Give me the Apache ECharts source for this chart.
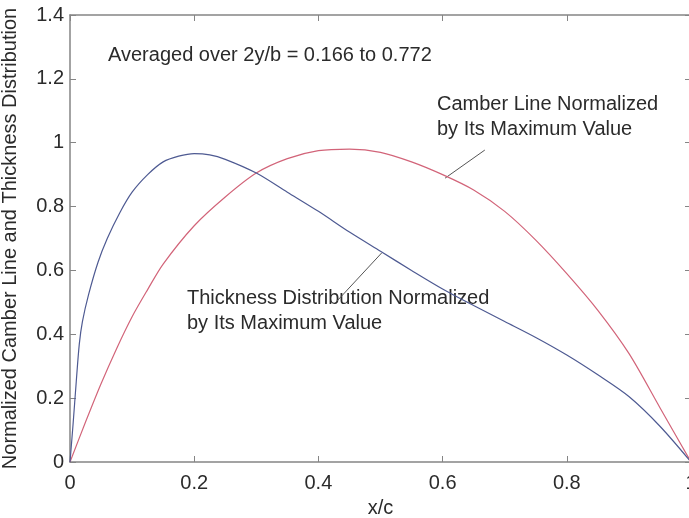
<!DOCTYPE html>
<html><head><meta charset="utf-8">
<script src="https://cdn.jsdelivr.net/npm/echarts@6/dist/echarts.min.js"></script>
<style>html,body{margin:0;padding:0;background:#fff}#c{width:689px;height:518px}</style>
</head><body><div id="c"></div>
<script>
// x/c positions and values
const camberX = [0, 0.025, 0.05, 0.075, 0.1, 0.125, 0.15, 0.2, 0.25, 0.3, 0.35, 0.4, 0.45, 0.5, 0.55, 0.6, 0.65, 0.7, 0.75, 0.8, 0.85, 0.9, 0.95, 1.0];
const camberY = [0, 0.125, 0.245, 0.355, 0.455, 0.54, 0.62, 0.74, 0.83, 0.905, 0.95, 0.975, 0.98, 0.97, 0.94, 0.9, 0.852, 0.785, 0.695, 0.59, 0.475, 0.34, 0.17, 0];
const thickX = [0, 0.005, 0.01, 0.015, 0.02, 0.03, 0.045, 0.06, 0.08, 0.1, 0.125, 0.15, 0.175, 0.2, 0.225, 0.25, 0.3, 0.35, 0.4, 0.45, 0.5, 0.55, 0.6, 0.65, 0.7, 0.75, 0.8, 0.85, 0.9, 0.95, 1.0];
const thickY = [0, 0.12, 0.25, 0.37, 0.44, 0.525, 0.625, 0.7, 0.78, 0.845, 0.9, 0.94, 0.958, 0.966, 0.962, 0.948, 0.905, 0.845, 0.785, 0.72, 0.66, 0.6, 0.542, 0.49, 0.44, 0.39, 0.335, 0.273, 0.205, 0.112, 0];
const xTicks = [0, 0.2, 0.4, 0.6, 0.8, 1];
const yTicks = [0, 0.2, 0.4, 0.6, 0.8, 1, 1.2, 1.4];
const camberLeader = [[0.668, 0.977], [0.604, 0.889]];
const thickLeader = [[0.502, 0.655], [0.427, 0.498]];

const FONT = '"Liberation Sans", Arial, sans-serif';
const TXT = '#2b2b2b';
const AX = '#858585';
const zip = (xs, ys) => xs.map((x, i) => [x, ys[i]]);

const chart = echarts.init(document.getElementById('c'), null, {renderer: 'canvas'});
const axBase = {
  type: 'value', splitLine: {show: false},
  axisLine: {show: true, onZero: false, lineStyle: {color: AX, width: 1.5}},
  axisTick: {show: true, inside: true, length: 6, lineStyle: {color: AX, width: 1}}
};
chart.setOption({
  animation: false,
  backgroundColor: '#fff',
  grid: {left: 70, right: -2, top: 15, bottom: 56, containLabel: false, outerBoundsMode: 'none'},
  xAxis: [
    Object.assign({}, axBase, {position: 'bottom', min: 0, max: 1, interval: 0.2,
      name: 'x/c', nameLocation: 'middle', nameGap: 36,
      nameTextStyle: {fontFamily: FONT, fontSize: 20, color: TXT},
      axisLabel: {fontFamily: FONT, fontSize: 20, color: TXT, margin: 11,
        formatter: v => String(+v.toFixed(1))}}),
    Object.assign({}, axBase, {position: 'top', min: 0, max: 1, interval: 0.2, axisLabel: {show: false}})
  ],
  yAxis: [
    Object.assign({}, axBase, {position: 'left', min: 0, max: 1.4, interval: 0.2,
      name: 'Normalized Camber Line and Thickness Distribution', nameLocation: 'middle', nameGap: 50,
      nameTextStyle: {fontFamily: FONT, fontSize: 20, color: TXT},
      axisLabel: {fontFamily: FONT, fontSize: 20, color: TXT, margin: 6,
        formatter: v => String(+v.toFixed(1))}}),
    Object.assign({}, axBase, {position: 'right', min: 0, max: 1.4, interval: 0.2, axisLabel: {show: false}})
  ],
  series: [
    {type: 'line', name: 'Camber', data: zip(camberX, camberY), showSymbol: false,
      smooth: 0.3, lineStyle: {color: '#d26479', width: 1.2}, z: 3},
    {type: 'line', name: 'Thickness', data: zip(thickX, thickY), showSymbol: false,
      smooth: 0.3, lineStyle: {color: '#4e5a92', width: 1.2}, z: 3},
    {type: 'line', name: 'leader1', data: camberLeader, showSymbol: false,
      lineStyle: {color: '#555', width: 1}, z: 2},
    {type: 'line', name: 'leader2', data: thickLeader, showSymbol: false,
      lineStyle: {color: '#555', width: 1}, z: 2}
  ],
  graphic: [
    {type: 'text', left: 108, top: 45, style: {text: 'Averaged over 2y/b = 0.166 to 0.772', font: '20px ' + FONT, fill: TXT}},
    {type: 'text', left: 437, top: 92, style: {text: 'Camber Line Normalized\nby Its Maximum Value', font: '20px ' + FONT, fill: TXT, lineHeight: 25}},
    {type: 'text', left: 187, top: 286, style: {text: 'Thickness Distribution Normalized\nby Its Maximum Value', font: '20px ' + FONT, fill: TXT, lineHeight: 25}}
  ]
});
</script></body></html>
